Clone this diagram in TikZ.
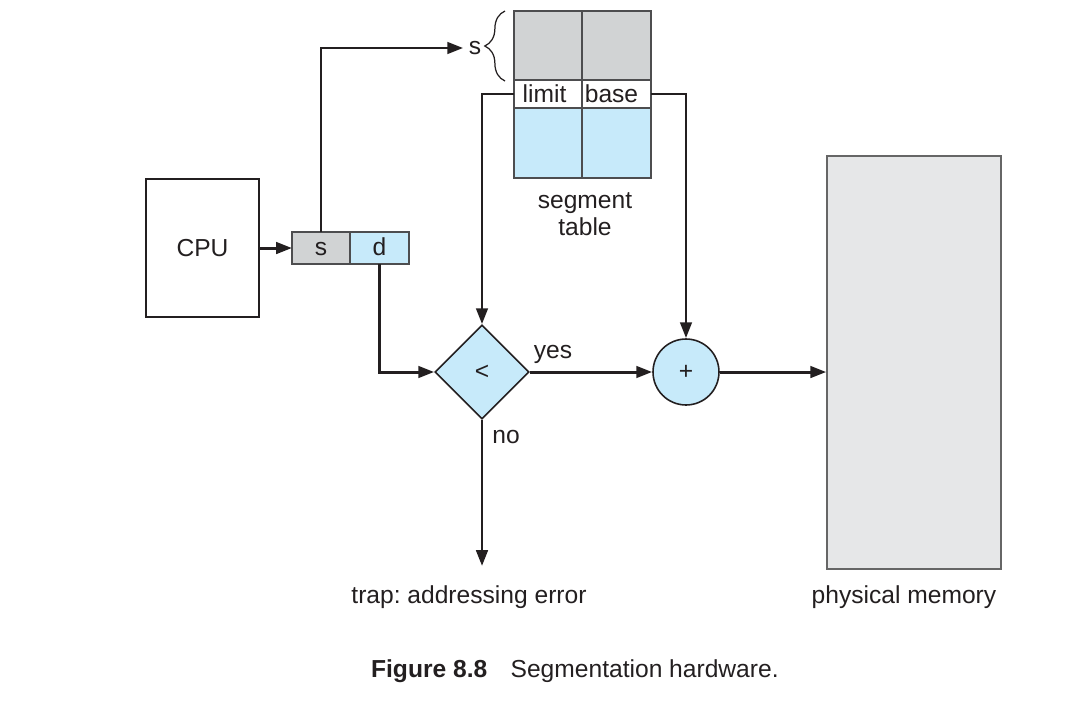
\documentclass[tikz,border=0pt]{standalone}
\usepackage{fontspec}
\setmainfont{Liberation Sans}
\frenchspacing
\usetikzlibrary{arrows.meta,shapes.geometric,decorations.pathreplacing}
\definecolor{cellgray}{RGB}{209,211,212}
\definecolor{cellblue}{RGB}{199,234,250}
\definecolor{memgray}{RGB}{230,231,232}
\definecolor{linec}{RGB}{35,31,32}
\definecolor{edgec}{RGB}{77,77,79}
\begin{document}
\begin{tikzpicture}[x=0.02cm,y=-0.02cm,
  font=\fontsize{14}{15.5}\selectfont,
  box/.style={draw=edgec, line width=0.9pt, inner sep=0pt, outer sep=0pt, text=linec},
  cell/.style={box, text height=10pt, text depth=1.5pt},
  celltext/.style={inner sep=0pt, text=linec, text height=10pt, text depth=1.5pt},
  conn/.style={line width=1.7pt, draw=linec, -{Triangle[length=9pt,width=6.5pt]}},
  lbl/.style={inner sep=1pt, text=linec}]
\useasboundingbox (0,0) rectangle (1066,711);
% CPU
\node[box, draw=linec, minimum width=2.26cm, minimum height=2.76cm] (cpu) at (202.5,248) {CPU};
% logical address
\node[cell, fill=cellgray, minimum width=1.16cm, minimum height=0.64cm] (s) at (321,248) {s};
\node[cell, fill=cellblue, minimum width=1.18cm, minimum height=0.64cm] (d) at (379.5,248) {d};
% segment table
\node[box, fill=cellgray, minimum width=1.37cm, minimum height=1.38cm] (g1) at (548,45.5) {};
\node[box, fill=cellgray, minimum width=1.37cm, minimum height=1.38cm] (g2) at (616.5,45.5) {};
\node[box, fill=white, minimum width=1.37cm, minimum height=0.56cm] (limit) at (548,94) {};
\node[box, fill=white, minimum width=1.37cm, minimum height=0.56cm] (base) at (616.5,94) {};
\node[celltext] (limittxt) at (544.5,95) {limit};
\node[celltext] (basetxt) at (611.5,95) {base};
\node[box, fill=cellblue, minimum width=1.37cm, minimum height=1.4cm] (b1) at (548,143) {};
\node[box, fill=cellblue, minimum width=1.37cm, minimum height=1.4cm] (b2) at (616.5,143) {};
\node[lbl, align=center] (seglbl) at (585,214) {segment\\table};
% s label and brace
\node[lbl, inner sep=3pt] (slab) at (475,48) {s};
\draw[linec, line width=0.7pt, decorate, decoration={brace, amplitude=11.5pt}] (505,81) -- (505,11);
% comparator and adder
\node[diamond, draw=linec, line width=0.9pt, fill=cellblue, inner sep=0pt, minimum width=1.88cm, minimum height=1.88cm, text=linec] (cmp) at (482,372) {<};
\node[circle, draw=linec, line width=0.9pt, fill=cellblue, inner sep=0pt, minimum size=1.32cm, text=linec] (plus) at (686,372) {+};
% physical memory
\node[draw=gray!80!black, line width=0.9pt, fill=memgray, minimum width=3.48cm, minimum height=8.26cm, inner sep=0pt] (mem) at (914,362.5) {};
\node[lbl] (memlbl) at (904,597) {physical memory};
\node[lbl] (trap) at (469,597) {trap: addressing error};
\coordinate (trapin) at (482,566);
% connectors
\draw[conn] (cpu.east) -- (s.west);
\draw[conn] (s.north) |- (slab.west);
\draw[conn] (limit.west) -| (cmp.north);
\draw[conn] (base.east) -| (plus.north);
\draw[conn] (d.south) |- (cmp.west);
\draw[conn] (cmp.east) -- (plus.west);
\draw[conn] (plus.east) -- (plus.east -| mem.west);
\draw[conn] (cmp.south) -- (trapin);
\node[lbl] (yes) at (553,354) {yes};
\node[lbl] (no) at (506,437) {no};
% caption
\node[lbl, anchor=west] (cap) at (369,671) {\textbf{Figure 8.8}\hspace{0.95em}Segmentation hardware.};
\end{tikzpicture}
\end{document}
